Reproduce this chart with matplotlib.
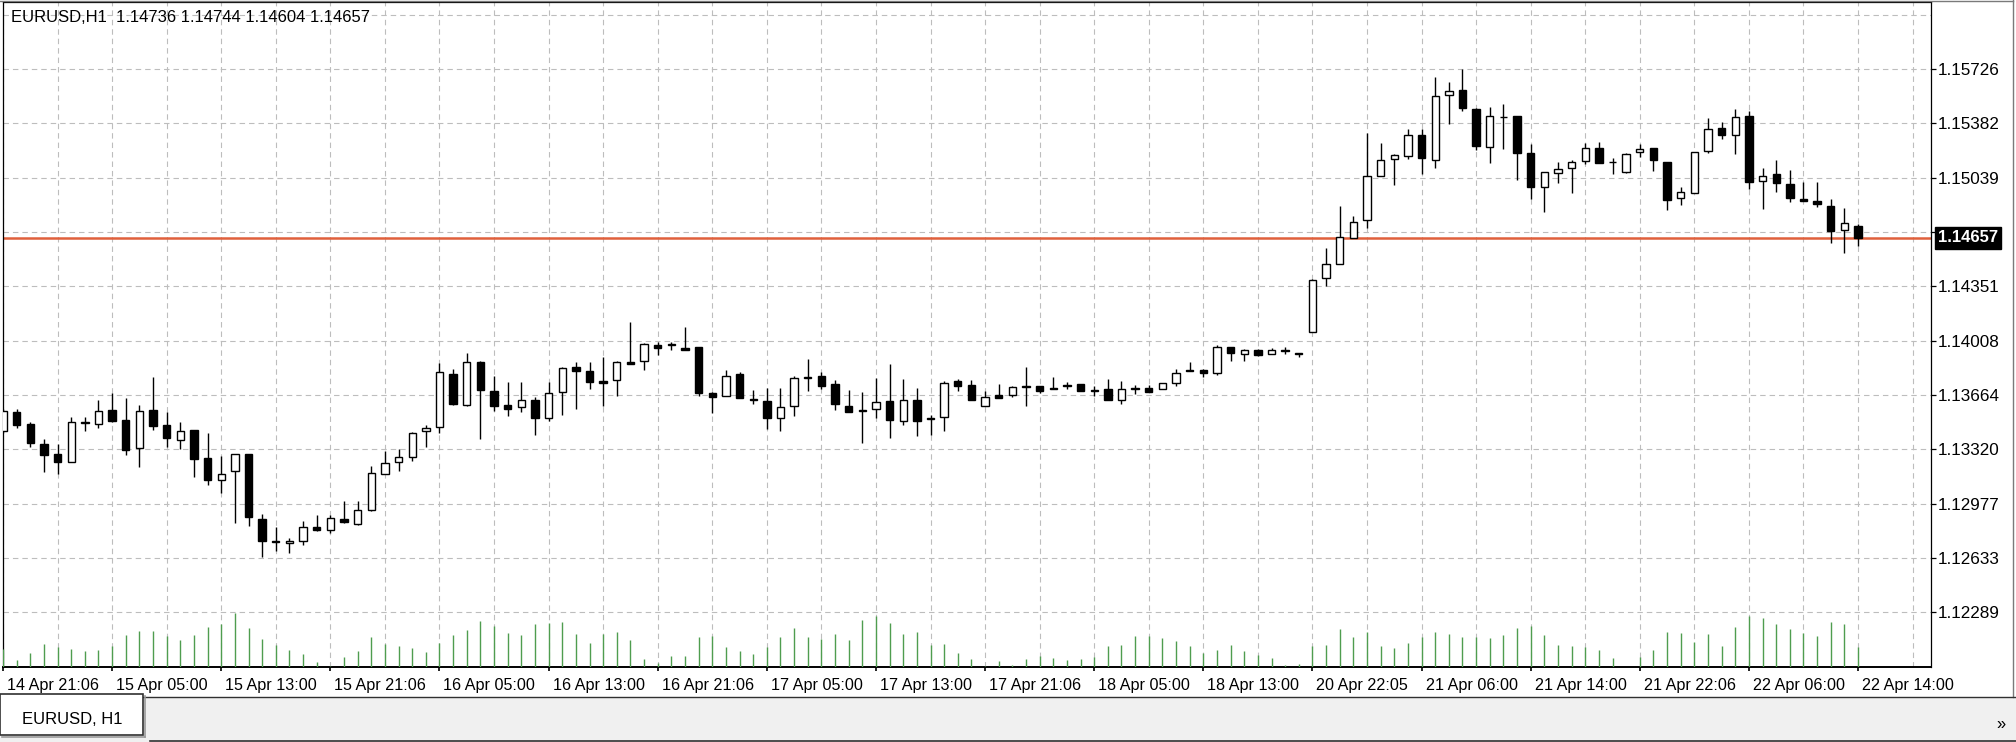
import matplotlib
matplotlib.use('Agg')
import matplotlib.pyplot as plt
import matplotlib.transforms as mtransforms
from matplotlib.patches import Rectangle
from matplotlib.lines import Line2D

# ---------------- data ----------------
symbol_title = "EURUSD,H1  1.14736 1.14744 1.14604 1.14657"
tab_title = "EURUSD, H1"
last_price = 1.14657

opens = [1.13433, 1.13555, 1.13482, 1.13354, 1.13289, 1.13243, 1.13484, 1.13480, 1.13568, 1.13503,
         1.13329, 1.13568, 1.13471, 1.13381, 1.13440, 1.13268, 1.13125, 1.13180, 1.13289, 1.12882,
         1.12743, 1.12729, 1.12739, 1.12829, 1.12811, 1.12880, 1.12846, 1.12938, 1.13165, 1.13242,
         1.13270, 1.13433, 1.13459, 1.13794, 1.13603, 1.13872, 1.13689, 1.13601, 1.13589, 1.13635,
         1.13521, 1.13685, 1.13838, 1.13817, 1.13752, 1.13756, 1.13872, 1.13876, 1.13979, 1.13981,
         1.13962, 1.13966, 1.13677, 1.13660, 1.13798, 1.13641, 1.13626, 1.13521, 1.13597, 1.13772,
         1.13786, 1.13731, 1.13593, 1.13565, 1.13576, 1.13626, 1.13500, 1.13635, 1.13509, 1.13524,
         1.13750, 1.13729, 1.13597, 1.13666, 1.13666, 1.13712, 1.13719, 1.13710, 1.13729, 1.13731,
         1.13693, 1.13700, 1.13633, 1.13700, 1.13710, 1.13700, 1.13737, 1.13825, 1.13825, 1.13800,
         1.13966, 1.13920, 1.13947, 1.13920, 1.13947, 1.13930, 1.14062, 1.14402, 1.14490, 1.14660,
         1.14769, 1.15047, 1.15156, 1.15177, 1.15307, 1.15152, 1.15563, 1.15591, 1.15475, 1.15232,
         1.15421, 1.15429, 1.15192, 1.14982, 1.15068, 1.15102, 1.15144, 1.15224, 1.15140, 1.15077,
         1.15198, 1.15224, 1.15135, 1.14913, 1.14943, 1.15207, 1.15354, 1.15307, 1.15427, 1.15018,
         1.15064, 1.15001, 1.14901, 1.14892, 1.14861, 1.14708, 1.14736]
highs = [1.13574, 1.13574, 1.13490, 1.13385, 1.13356, 1.13524, 1.13524, 1.13633, 1.13679, 1.13643,
         1.13601, 1.13779, 1.13557, 1.13492, 1.13444, 1.13423, 1.13280, 1.13293, 1.13293, 1.12911,
         1.12829, 1.12762, 1.12869, 1.12903, 1.12903, 1.12991, 1.12991, 1.13215, 1.13310, 1.13320,
         1.13429, 1.13475, 1.13865, 1.13828, 1.13928, 1.13882, 1.13786, 1.13744, 1.13744, 1.13651,
         1.13744, 1.13840, 1.13872, 1.13872, 1.13901, 1.13880, 1.14127, 1.13993, 1.14002, 1.14002,
         1.14096, 1.13970, 1.13681, 1.13819, 1.13807, 1.13693, 1.13708, 1.13708, 1.13781, 1.13890,
         1.13807, 1.13760, 1.13698, 1.13681, 1.13771, 1.13861, 1.13765, 1.13708, 1.13540, 1.13750,
         1.13765, 1.13760, 1.13687, 1.13733, 1.13723, 1.13838, 1.13723, 1.13779, 1.13746, 1.13731,
         1.13721, 1.13767, 1.13752, 1.13725, 1.13725, 1.13742, 1.13830, 1.13872, 1.13830, 1.13983,
         1.13966, 1.13955, 1.13955, 1.13962, 1.13968, 1.13930, 1.14396, 1.14591, 1.14857, 1.14794,
         1.15322, 1.15259, 1.15186, 1.15349, 1.15345, 1.15674, 1.15643, 1.15727, 1.15479, 1.15486,
         1.15505, 1.15429, 1.15249, 1.15077, 1.15135, 1.15150, 1.15255, 1.15265, 1.15161, 1.15194,
         1.15249, 1.15224, 1.15140, 1.14982, 1.15203, 1.15416, 1.15391, 1.15471, 1.15458, 1.15098,
         1.15148, 1.15085, 1.15014, 1.15010, 1.14901, 1.14846, 1.14744]
lows = [1.13423, 1.13454, 1.13335, 1.13175, 1.13163, 1.13238, 1.13433, 1.13454, 1.13494, 1.13282,
        1.13209, 1.13444, 1.13335, 1.13324, 1.13142, 1.13092, 1.13045, 1.12855, 1.12836, 1.12637,
        1.12674, 1.12664, 1.12716, 1.12804, 1.12790, 1.12855, 1.12842, 1.12928, 1.13162, 1.13186,
        1.13249, 1.13333, 1.13421, 1.13601, 1.13597, 1.13383, 1.13561, 1.13530, 1.13555, 1.13412,
        1.13498, 1.13540, 1.13574, 1.13702, 1.13593, 1.13656, 1.13861, 1.13819, 1.13918, 1.13949,
        1.13951, 1.13660, 1.13551, 1.13656, 1.13645, 1.13609, 1.13446, 1.13433, 1.13530, 1.13687,
        1.13702, 1.13572, 1.13555, 1.13362, 1.13519, 1.13393, 1.13477, 1.13404, 1.13408, 1.13435,
        1.13689, 1.13630, 1.13597, 1.13645, 1.13649, 1.13593, 1.13677, 1.13700, 1.13700, 1.13687,
        1.13658, 1.13633, 1.13607, 1.13668, 1.13685, 1.13700, 1.13721, 1.13815, 1.13779, 1.13788,
        1.13878, 1.13878, 1.13909, 1.13920, 1.13920, 1.13905, 1.14060, 1.14354, 1.14490, 1.14660,
        1.14720, 1.15047, 1.14993, 1.15156, 1.15060, 1.15102, 1.15379, 1.15458, 1.15215, 1.15129,
        1.15217, 1.15024, 1.14905, 1.14821, 1.15005, 1.14940, 1.15123, 1.15133, 1.15060, 1.15066,
        1.15171, 1.15081, 1.14833, 1.14867, 1.14943, 1.15194, 1.15286, 1.15186, 1.14968, 1.14842,
        1.14951, 1.14884, 1.14888, 1.14850, 1.14626, 1.14563, 1.14604]
closes = [1.13565, 1.13475, 1.13360, 1.13282, 1.13243, 1.13492, 1.13490, 1.13565, 1.13498, 1.13314,
          1.13565, 1.13465, 1.13391, 1.13438, 1.13261, 1.13123, 1.13167, 1.13289, 1.12890, 1.12737,
          1.12731, 1.12737, 1.12827, 1.12808, 1.12884, 1.12859, 1.12934, 1.13169, 1.13232, 1.13274,
          1.13425, 1.13458, 1.13807, 1.13605, 1.13870, 1.13693, 1.13597, 1.13576, 1.13635, 1.13521,
          1.13677, 1.13836, 1.13813, 1.13748, 1.13742, 1.13872, 1.13861, 1.13989, 1.13962, 1.13989,
          1.13951, 1.13677, 1.13651, 1.13781, 1.13647, 1.13633, 1.13521, 1.13591, 1.13773, 1.13780,
          1.13723, 1.13605, 1.13555, 1.13572, 1.13622, 1.13503, 1.13630, 1.13498, 1.13517, 1.13742,
          1.13719, 1.13630, 1.13651, 1.13645, 1.13714, 1.13719, 1.13687, 1.13700, 1.13721, 1.13687,
          1.13687, 1.13633, 1.13700, 1.13706, 1.13685, 1.13737, 1.13804, 1.13815, 1.13800, 1.13968,
          1.13930, 1.13947, 1.13914, 1.13951, 1.13943, 1.13924, 1.14392, 1.14490, 1.14664, 1.14757,
          1.15050, 1.15148, 1.15182, 1.15307, 1.15165, 1.15555, 1.15584, 1.15479, 1.15240, 1.15429,
          1.15425, 1.15196, 1.14982, 1.15073, 1.15094, 1.15140, 1.15224, 1.15133, 1.15135, 1.15190,
          1.15219, 1.15148, 1.14899, 1.14947, 1.15198, 1.15349, 1.15307, 1.15423, 1.15014, 1.15047,
          1.15005, 1.14909, 1.14888, 1.14871, 1.14703, 1.14750, 1.14657]
volumes = [55, 21, 41, 68, 61, 55, 47, 50, 62, 95, 108, 108, 92, 81, 95, 121, 130, 161, 118, 85,
           66, 52, 38, 16, 2, 29, 47, 90, 69, 62, 57, 44, 73, 97, 111, 138, 122, 103, 96, 129,
           133, 136, 98, 73, 100, 106, 82, 24, 12, 34, 34, 91, 94, 59, 48, 39, 59, 90, 116, 89,
           83, 98, 80, 141, 152, 133, 100, 105, 66, 70, 43, 24, 3, 18, 5, 24, 33, 26, 21, 24,
           29, 62, 66, 93, 94, 86, 77, 64, 41, 52, 67, 49, 35, 26, 5, 10, 64, 67, 113, 89,
           105, 62, 58, 72, 90, 105, 100, 90, 90, 87, 95, 118, 122, 96, 67, 62, 59, 50, 26, 1,
           29, 52, 106, 103, 74, 98, 62, 120, 153, 146, 129, 114, 102, 93, 136, 130, 61]

time_labels = ["14 Apr 21:06", "15 Apr 05:00", "15 Apr 13:00", "15 Apr 21:06", "16 Apr 05:00",
               "16 Apr 13:00", "16 Apr 21:06", "17 Apr 05:00", "17 Apr 13:00", "17 Apr 21:06",
               "18 Apr 05:00", "18 Apr 13:00", "20 Apr 22:05", "21 Apr 06:00", "21 Apr 14:00",
               "21 Apr 22:06", "22 Apr 06:00", "22 Apr 14:00"]
price_ticks = [1.12289, 1.12633, 1.12977, 1.13320, 1.13664, 1.14008, 1.14351, 1.14695,
               1.15039, 1.15382, 1.15726]
hidden_tick = 1.14695   # its label sits under the current-price box
top_grid_level = [1.16070]

# ---------------- layout ----------------
W, H = 2016, 742
plt.rcParams['font.family'] = ['Liberation Sans', 'DejaVu Sans']
fig = plt.figure(figsize=(W / 100, H / 100), dpi=100)
fig.patch.set_facecolor('white')


def fx(px):
    return px / W


def fy(py):
    return 1 - py / H


L_, R_, T_, B_ = 3, 1931, 2, 667
rect = [fx(L_), fy(B_), (R_ - L_) / W, (B_ - T_) / H]
ax = fig.add_axes(rect)
ax.set_facecolor('white')

n = len(opens)
xs = list(range(n))
ax.set_xlim(0, (R_ - L_) / 13.64)
ax.set_ylim(1.11943, 1.16150)

# grid
grid_kw = dict(color='#bdbdbd', linewidth=0.8, linestyle=(0, (4.9, 3.6)))
ax.set_xticks(list(range(0, n, 8)))
ax.set_xticks(list(range(0, 141, 4)), minor=True)
ax.set_xticklabels(time_labels)
ax.set_yticks(price_ticks)
ax.set_yticklabels(['' if p == hidden_tick else f"{p:.5f}" for p in price_ticks])
ax.set_yticks(top_grid_level, minor=True)
ax.grid(True, which='both', **grid_kw)
ax.set_axisbelow(True)

ax.yaxis.tick_right()
ax.tick_params(axis='y', which='major', direction='out', length=3.6, width=0.9,
               pad=1.0, labelsize=12.3, colors='black')
ax.tick_params(axis='x', which='major', direction='out', length=3.0, width=1.2,
               pad=5.0, labelsize=11.6, colors='black')
ax.tick_params(which='minor', length=0)

offset = mtransforms.ScaledTranslation(4 / 100, 0, fig.dpi_scale_trans)
for lab in ax.xaxis.get_majorticklabels():
    lab.set_horizontalalignment('left')
    lab.set_transform(lab.get_transform() + offset)

for side in ['left', 'top', 'right']:
    ax.spines[side].set_color('black')
    ax.spines[side].set_linewidth(0.9)
ax.spines['bottom'].set_linewidth(1.4)

# current price line
ax.axhline(last_price, color='#e0603c', linewidth=1.8, zorder=1.8)

# candles
for i in xs:
    o, h, l, c = opens[i], highs[i], lows[i], closes[i]
    ax.vlines(i, l, h, color='black', linewidth=1.0, zorder=2.5)
    up = c >= o
    ax.bar(i, abs(c - o), bottom=min(o, c), width=0.54,
           color='white' if up else 'black', edgecolor='black',
           linewidth=1.0, zorder=3)

# current price label box
blend = mtransforms.blended_transform_factory(ax.transAxes, ax.transData)
box_off = mtransforms.ScaledTranslation(7 / 100, 0, fig.dpi_scale_trans)
ax.text(1.0, last_price, f"{last_price:.5f}", transform=blend + box_off,
        ha='left', va='center', color='white', fontsize=12, fontweight='bold',
        clip_on=False, zorder=10,
        bbox=dict(boxstyle='square,pad=0.2', facecolor='black', edgecolor='black'))

# volumes overlay
axv = fig.add_axes(rect, sharex=ax)
axv.patch.set_visible(False)
axv.set_ylim(0, (B_ - T_) * 3)
axv.vlines(xs, 0, volumes, color='#4f9d4f', linewidth=1.0)
axv.set_axis_off()

# header text
fig.text(fx(11), fy(18), symbol_title, ha='left', va='center', fontsize=12, color='black')

# window frame
fig.add_artist(Line2D([fx(2013), fx(2013)], [fy(0), fy(697)], color='#7a7a7a', linewidth=1))
fig.add_artist(Line2D([fx(0), fx(2013)], [fy(0.5), fy(0.5)], color='#7a7a7a', linewidth=1))

# bottom tab strip
fig.add_artist(Rectangle((0, 0), 1, fy(697), transform=fig.transFigure,
                         facecolor='#f0f0f0', edgecolor='none', zorder=0))
fig.add_artist(Line2D([fx(143), fx(2016)], [fy(697), fy(697)], color='#303030', linewidth=1))
fig.add_artist(Line2D([fx(150), fx(2016)], [fy(741), fy(741)], color='#303030', linewidth=1.2))
fig.add_artist(Rectangle((0, fy(735)), fx(143), fy(694) - fy(735), transform=fig.transFigure,
                         facecolor='white', edgecolor='#303030', linewidth=1.2, zorder=2))
fig.add_artist(Line2D([fx(145), fx(145)], [fy(696), fy(737)], color='#9a9a9a', linewidth=1.2))
fig.add_artist(Line2D([fx(2), fx(145)], [fy(737), fy(737)], color='#9a9a9a', linewidth=1.2))
fig.text(fx(72), fy(719), tab_title, ha='center', va='center', fontsize=12, color='black')
fig.text(fx(2001), fy(724), "\u00bb", ha='center', va='center', fontsize=12, color='black')

fig.savefig('out.png', dpi=100, facecolor='white')
